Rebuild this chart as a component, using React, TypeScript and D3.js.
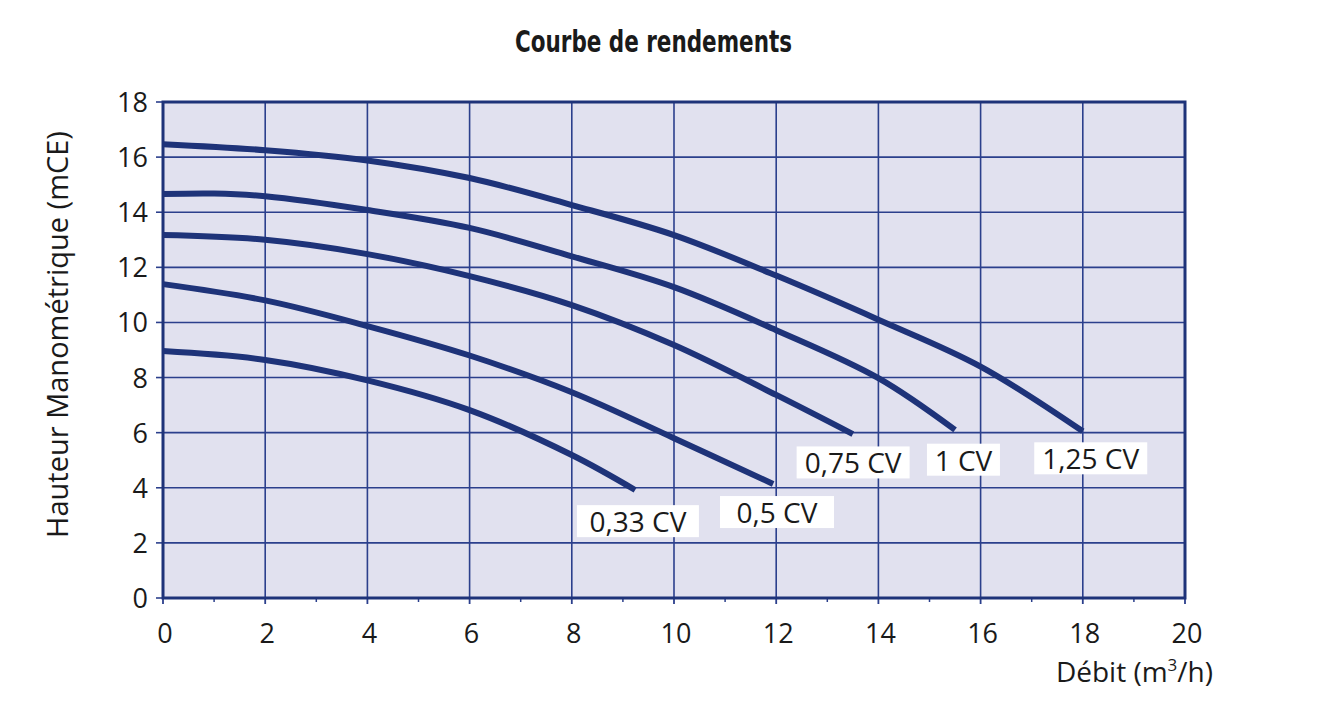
import React from "react";
import * as d3 from "d3";

const xTicks = [0, 2, 4, 6, 8, 10, 12, 14, 16, 18, 20];
const yTicks = [0, 2, 4, 6, 8, 10, 12, 14, 16, 18];
const xMinor = [1, 3, 5, 7, 9, 11, 13, 15, 17, 19];

const seriesNames = ["1,25 CV", "1 CV", "0,75 CV", "0,5 CV", "0,33 CV"];
const cv125: [number, number][] = [[0, 16.47], [2, 16.25], [4, 15.88], [6, 15.24], [8, 14.26], [10, 13.17], [12, 11.7], [14, 10.1], [16, 8.4], [18, 6.05]];
const cv100: [number, number][] = [[0, 14.66], [1, 14.68], [2, 14.58], [4, 14.08], [6, 13.43], [8, 12.4], [10, 11.28], [12, 9.72], [14, 7.98], [15.5, 6.1]];
const cv075: [number, number][] = [[0, 13.17], [2, 13.0], [4, 12.48], [6, 11.68], [8, 10.63], [10, 9.18], [12, 7.37], [13.5, 5.95]];
const cv050: [number, number][] = [[0, 11.39], [2, 10.8], [4, 9.87], [6, 8.8], [8, 7.47], [10, 5.8], [11.94, 4.14]];
const cv033: [number, number][] = [[0, 8.96], [2, 8.64], [4, 7.9], [6, 6.82], [8, 5.19], [9.24, 3.92]];
const seriesData = [cv125, cv100, cv075, cv050, cv033];
const labelX = [17.05, 14.95, 12.4, 10.9, 8.1];
const labelY = [5.65, 5.6, 5.5, 3.7, 3.37];

const W = 1319;
const H = 726;
const L = 163, R = 1185, T = 102, B = 598;
const NAVY = "#1e3379";
const GRID = "#2b3f8c";
const FONT = "'Open Sans', 'Noto Sans', sans-serif";

export default function App() {
  const x = d3.scaleLinear().domain([0, 20]).range([L, R]);
  const y = d3.scaleLinear().domain([0, 18]).range([B, T]);
  const line = d3
    .line<[number, number]>()
    .x((d) => x(d[0]))
    .y((d) => y(d[1]))
    .curve(d3.curveCatmullRom.alpha(0.5));

  const boxW = [113, 73, 113, 114, 122];
  const boxH = 32;

  return (
    <svg width={W} height={H} style={{ position: "absolute", left: 0, top: 0, background: "#fff" }}>
      <rect x={L} y={T} width={R - L} height={B - T} fill="#e1e1ef" />
      {xTicks.slice(1, -1).map((t) => (
        <line key={"gx" + t} x1={x(t)} x2={x(t)} y1={T} y2={B} stroke={GRID} strokeWidth={1.6} />
      ))}
      {yTicks.slice(1, -1).map((t) => (
        <line key={"gy" + t} x1={L} x2={R} y1={y(t)} y2={y(t)} stroke={GRID} strokeWidth={1.6} />
      ))}
      {yTicks.map((t) => (
        <line key={"ty" + t} x1={L - 7} x2={L} y1={y(t)} y2={y(t)} stroke={GRID} strokeWidth={1.6} />
      ))}
      {xTicks.map((t) => (
        <line key={"tx" + t} x1={x(t)} x2={x(t)} y1={B} y2={B + 6} stroke={GRID} strokeWidth={1.8} />
      ))}
      {xMinor.map((t) => (
        <line key={"tm" + t} x1={x(t)} x2={x(t)} y1={B} y2={B + 4} stroke={GRID} strokeWidth={1.5} />
      ))}
      <rect x={L} y={T} width={R - L} height={B - T} fill="none" stroke={NAVY} strokeWidth={3} />
      {seriesData.map((d, i) => (
        <path key={seriesNames[i]} d={line(d) || ""} fill="none" stroke={NAVY} strokeWidth={6} strokeLinecap="butt" />
      ))}
      {seriesNames.map((n, i) => {
        const bx = x(labelX[i]);
        const by = y(labelY[i]);
        return (
          <g key={"lab" + n}>
            <rect x={bx} y={by} width={boxW[i]} height={boxH} fill="#fff" />
            <text x={bx + boxW[i] / 2} y={by + 27} textAnchor="middle" fontFamily={FONT} fontSize={28} fill="#1a1a1a">
              {n}
            </text>
          </g>
        );
      })}
      {yTicks.map((t) => (
        <text key={"ly" + t} x={L - 15} y={y(t) + 10} textAnchor="end" fontFamily={FONT} fontSize={27} fill="#1a1a1a">
          {t}
        </text>
      ))}
      {xTicks.map((t) => (
        <text key={"lx" + t} x={x(t) + 2} y={643} textAnchor="middle" fontFamily={FONT} fontSize={27} fill="#1a1a1a">
          {t}
        </text>
      ))}
      <text x={1213} y={682} textAnchor="end" fontFamily={FONT} fontSize={28} fill="#1a1a1a">
        Débit (m<tspan fontSize={17} dy={-11}>3</tspan><tspan dy={11}>/h)</tspan>
      </text>
      <text
        transform={`translate(68,${(132 + 537) / 2}) rotate(-90)`}
        textAnchor="middle"
        fontFamily={FONT}
        fontSize={29}
        fill="#1a1a1a"
      >
        Hauteur Manométrique (mCE)
      </text>
      <text
        x={515}
        y={52}
        textLength={277}
        lengthAdjust="spacingAndGlyphs"
        fontFamily="'DejaVu Sans Condensed', 'DejaVu Sans', sans-serif"
        fontWeight="bold"
        fontSize={31}
        fill="#1a1a1a"
      >
        Courbe de rendements
      </text>
    </svg>
  );
}
